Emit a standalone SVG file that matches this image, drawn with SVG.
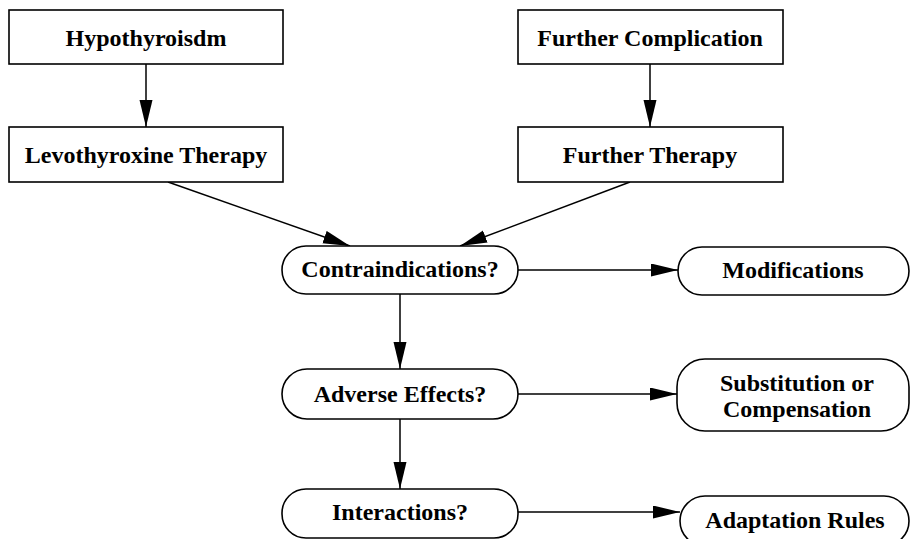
<svg xmlns="http://www.w3.org/2000/svg" width="911" height="539" viewBox="0 0 911 539">
<style>
.n{fill:#fff;stroke:#000;stroke-width:1.6}
.t{font-family:"Liberation Serif","Times New Roman",serif;font-weight:bold;font-size:24px;text-anchor:middle;fill:#000}
.e{stroke:#000;stroke-width:1.5;fill:none;marker-end:url(#ah)}
</style>
<defs>
<marker id="ah" markerWidth="28" markerHeight="14" refX="27" refY="6.5" orient="auto" markerUnits="userSpaceOnUse">
<path d="M0,0 L27,6.5 L0,13 Z" fill="#000"/>
</marker>
</defs>
<rect width="911" height="539" fill="#fff"/>
<g id="connectors">
<line class="e" x1="146" y1="64" x2="146" y2="127"/>
<line class="e" x1="650" y1="64" x2="650" y2="127"/>
<line class="e" x1="168" y1="182" x2="350" y2="246"/>
<line class="e" x1="630" y1="182" x2="460" y2="246"/>
<line class="e" x1="518" y1="270" x2="678" y2="270"/>
<line class="e" x1="400" y1="294" x2="400" y2="369"/>
<line class="e" x1="518" y1="394" x2="677" y2="394"/>
<line class="e" x1="400" y1="419" x2="400" y2="489"/>
<line class="e" x1="518" y1="512" x2="680" y2="512"/>
</g>
<g id="hypo"><rect class="n" x="9" y="10" width="274" height="54"/><text class="t" x="146" y="46">Hypothyroisdm</text></g>
<g id="levo"><rect class="n" x="9" y="127" width="274" height="55"/><text class="t" x="146" y="163">Levothyroxine Therapy</text></g>
<g id="fcomp"><rect class="n" x="518" y="10" width="265" height="54"/><text class="t" x="650" y="46">Further Complication</text></g>
<g id="fther"><rect class="n" x="518" y="127" width="265" height="55"/><text class="t" x="650" y="163">Further Therapy</text></g>
<g id="contra"><rect class="n" x="282" y="246" width="236" height="48" rx="24"/><text class="t" x="400" y="277">Contraindications?</text></g>
<g id="mods"><rect class="n" x="678" y="247" width="231" height="48" rx="24"/><text class="t" x="793" y="278">Modifications</text></g>
<g id="adverse"><rect class="n" x="282" y="369" width="236" height="50" rx="25"/><text class="t" x="400" y="402">Adverse Effects?</text></g>
<g id="subst"><rect class="n" x="677" y="359" width="232" height="72" rx="28"/><text class="t" x="797" y="391">Substitution or</text><text class="t" x="797" y="417">Compensation</text></g>
<g id="inter"><rect class="n" x="282" y="489" width="236" height="49" rx="24"/><text class="t" x="400" y="520">Interactions?</text></g>
<g id="adapt"><rect class="n" x="680" y="496" width="229" height="50" rx="25"/><text class="t" x="795" y="528">Adaptation Rules</text></g>
</svg>
